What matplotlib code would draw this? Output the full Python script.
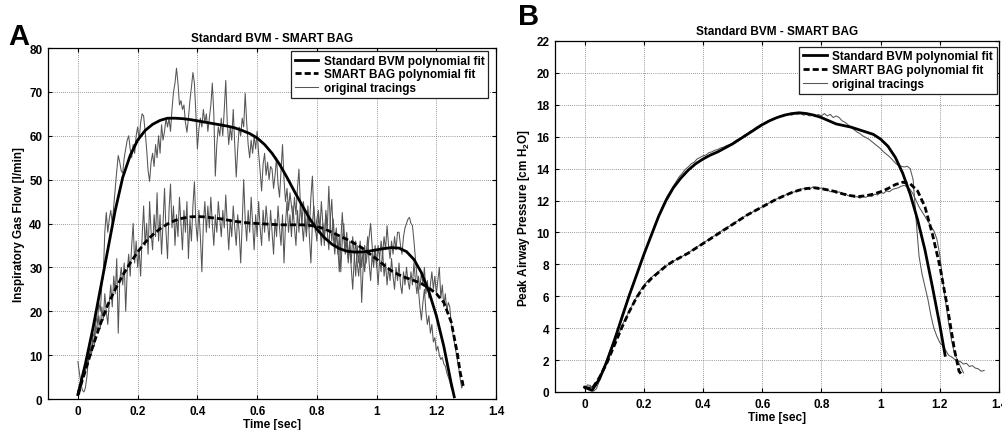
import numpy as np
import matplotlib
matplotlib.use('Agg')
import matplotlib.pyplot as plt

plt.rcParams['font.family'] = ['Liberation Sans', 'DejaVu Sans']
plt.rcParams['font.weight'] = 'bold'
plt.rcParams['mathtext.fontset'] = 'custom'
plt.rcParams['mathtext.rm'] = 'Liberation Sans:bold'
plt.rcParams['mathtext.default'] = 'rm'

# ---------------- Panel A: inspiratory gas flow [l/min] ----------------
fitA_bvm_t = [0, .025, .05, .075, .1, .125, .15, .175, .2, .225, .25, .275, .3, .325, .35, .375,
              .4, .425, .45, .475, .5, .525, .55, .575, .6, .625, .65, .675, .7, .725, .75, .775,
              .8, .825, .85, .875, .9, .925, .95, .975, 1.0, 1.025, 1.05, 1.075, 1.1, 1.125,
              1.15, 1.175, 1.2, 1.225, 1.25, 1.26]
fitA_bvm = [1, 8, 16, 25, 34, 43, 50.5, 55.5, 59, 61.2, 62.6, 63.5, 64, 64, 63.9, 63.7,
            63.4, 63.1, 62.8, 62.5, 62.2, 61.8, 61.2, 60.5, 59.5, 58, 56, 53.5, 50.5, 47.3, 44.2, 41.2,
            38.7, 36.8, 35.3, 34.3, 33.7, 33.5, 33.5, 33.7, 34, 34.3, 34.5, 34.4, 33.6, 31.8,
            28.8, 24.5, 19, 12, 3.5, 0.5]

fitA_smart_t = [0, .025, .05, .075, .1, .125, .15, .175, .2, .225, .25, .275, .3, .325, .35, .375,
                .4, .425, .45, .475, .5, .525, .55, .575, .6, .625, .65, .675, .7, .725, .75, .775,
                .8, .825, .85, .875, .9, .925, .95, .975, 1.0, 1.025, 1.05, 1.075, 1.1, 1.125,
                1.15, 1.175, 1.2, 1.225, 1.25, 1.27, 1.28, 1.29]
fitA_smart = [1, 6.5, 12, 17, 21.5, 25, 28.2, 31, 33.5, 35.7, 37.4, 38.8, 39.9, 40.7, 41.2, 41.5,
              41.6, 41.5, 41.3, 41.1, 40.8, 40.5, 40.3, 40.1, 40, 39.9, 39.8, 39.7, 39.7, 39.7, 39.7, 39.6,
              39.3, 38.8, 38, 37.2, 36.4, 35.5, 34.5, 33.2, 31.9, 30.5, 29.2, 28.3, 27.6, 27,
              26.3, 25.3, 24, 22, 17.5, 10.5, 6, 3]

# original tracings, sampled every 5 ms
dtA = 0.005
traceA_bvm = [
    8.5, 6, 3.5, 2, 1.6, 2.5, 5, 9, 12, 10,
    15, 14, 19, 17, 22, 20, 26, 28, 38, 42.5,
    38, 41, 43, 40, 44, 48, 52, 55.5, 54, 52,
    51.5, 55, 57, 59, 60, 57, 55, 58, 56, 60,
    62, 59, 63, 65, 64.5, 61, 57, 52, 49.6, 54,
    56, 53, 58, 55, 60, 56, 62.5, 59, 61, 64,
    62, 64, 61, 66, 70, 72, 75.4, 72, 67, 68,
    66, 67, 63, 60.8, 64, 68, 71, 74.4, 72, 65,
    57, 61.5, 64, 62, 66, 63, 65, 61, 64, 67,
    72, 65, 50.8, 58, 62, 60, 64, 60, 66, 72.6,
    63, 58, 62, 59, 66, 58, 50.6, 57, 62, 60,
    64, 62, 69.7, 63, 58, 55, 59, 56, 60, 57,
    61, 56, 52, 47.4, 53.5, 56, 51, 54, 50, 53,
    52.4, 48, 51, 55, 49, 46, 52, 58, 50, 45,
    48, 43, 47, 44, 41, 46, 42, 48, 52.4, 44,
    40, 45, 41, 37, 43, 39, 46, 50.8, 42, 38,
    41, 43, 39, 35, 40, 37, 42, 38, 34, 41,
    45.5, 37, 33, 38, 35, 29, 36, 42.5, 37, 33,
    36, 31, 35, 30, 25, 32, 36, 31, 28, 33,
    22, 30, 35, 31, 34, 37, 40, 35, 31, 34,
    30, 35, 32, 36, 33, 37, 34, 39.5, 35, 32,
    36, 33, 37, 34, 38, 38, 35, 33, 37, 39,
    40, 41, 41.4, 40, 39.5, 36, 32, 28, 25, 21,
    18, 22, 25, 20, 17, 19, 15, 17, 13, 14,
    11, 12, 10, 9, 9.5, 8, 7.5, 6, 5, 4,
    2.5, 1.8, 0.5]
traceA_smart = [
    2, 1, 2.5, 5, 7, 6, 9, 8, 12, 10,
    14, 12, 17, 15, 19, 16, 21, 18, 24, 20,
    17, 22, 26, 21, 28, 24, 32, 15, 27, 30,
    26, 31, 20, 29, 33, 28, 35, 40, 31, 36,
    30, 34, 28, 37, 44, 35, 40, 33, 45, 38,
    34, 42, 37, 47, 36, 42, 33, 40, 48, 38,
    32, 43, 49, 39, 44, 35, 42, 37, 46, 40,
    34, 43, 38, 45, 32, 41, 36, 44, 49.5, 40,
    36, 43, 37, 29, 40, 45, 38, 44, 39, 46,
    40, 35, 42, 38, 45, 41, 37, 43, 39, 46.5,
    40, 34, 41, 37, 44, 39, 35, 42, 38, 31,
    40, 50, 41, 36, 43, 38, 46, 40, 34, 42,
    37, 45, 39, 35, 43, 38, 44, 40, 36, 43,
    38, 33, 41, 37, 44, 39, 35, 42, 31, 40,
    45, 38, 42, 37, 44, 39, 35, 43, 38, 45,
    40, 36, 42, 38, 44, 37, 31, 40, 44, 39,
    36, 42, 38, 45, 40, 35, 43, 39, 48.5, 40,
    36, 41, 35, 39, 33, 37, 29, 36, 40, 34,
    38, 32, 36, 31, 37, 33, 28, 35, 31, 36,
    30, 34, 29, 33, 37, 31, 27, 33, 30, 35,
    31, 26, 32, 29, 34, 28, 31, 26, 30, 27,
    32, 28, 25, 30, 27, 31, 26, 24, 29, 26,
    30, 27, 25, 29, 26, 31, 27, 24, 28, 25,
    29, 26, 30, 24, 27, 23, 26, 29, 25, 28,
    24, 27, 30, 23, 26, 21, 24, 20, 22, 21,
    17, 15, 13, 11, 9, 7, 4.5, 2.5, 4]

# ---------------- Panel B: peak airway pressure [cm H2O] ----------------
fitB_bvm_t = [0, .025, .05, .075, .1, .125, .15, .175, .2, .225, .25, .275, .3, .325, .35, .375,
              .4, .425, .45, .475, .5, .525, .55, .575, .6, .625, .65, .675, .7, .725, .75, .775,
              .8, .825, .85, .875, .9, .925, .95, .975, 1.0, 1.025, 1.05, 1.075, 1.1, 1.125,
              1.15, 1.175, 1.2, 1.218]
fitB_bvm = [0.3, 0.1, 0.8, 1.9, 3.2, 4.6, 6.0, 7.3, 8.6, 9.8, 11.0, 12.0, 12.8, 13.4, 13.9, 14.3,
            14.6, 14.85, 15.05, 15.3, 15.55, 15.85, 16.15, 16.45, 16.75, 17.0, 17.2, 17.35, 17.45, 17.5, 17.45, 17.35,
            17.2, 17.0, 16.8, 16.7, 16.6, 16.45, 16.3, 16.15, 15.85, 15.4, 14.7, 13.7, 12.4, 10.8,
            8.9, 6.6, 4.2, 2.3]

fitB_smart_t = [0, .025, .05, .075, .1, .125, .15, .175, .2, .225, .25, .275, .3, .325, .35, .375,
                .4, .425, .45, .475, .5, .525, .55, .575, .6, .625, .65, .675, .7, .725, .75, .775,
                .8, .825, .85, .875, .9, .925, .95, .975, 1.0, 1.025, 1.05, 1.075, 1.1, 1.125,
                1.15, 1.175, 1.2, 1.225, 1.25, 1.265, 1.278]
fitB_smart = [0.3, 0.2, 0.9, 1.8, 2.9, 4.0, 5.0, 5.9, 6.6, 7.1, 7.5, 7.9, 8.2, 8.45, 8.7, 9.0,
              9.3, 9.6, 9.9, 10.2, 10.5, 10.8, 11.1, 11.35, 11.6, 11.85, 12.1, 12.3, 12.5, 12.65, 12.75, 12.8,
              12.75, 12.65, 12.55, 12.4, 12.3, 12.25, 12.3, 12.4, 12.55, 12.75, 13.0, 13.15, 13.05, 12.6,
              11.6, 9.9, 7.9, 5.4, 2.6, 1.3, 1.0]

# original tracings, sampled every 10 ms
dtB = 0.01
traceB_bvm = [
    0.2, 0.45, 0.4, 0.05, 0.2, 0.7, 1.2, 1.8, 2.3, 2.8,
    3.3, 3.8, 4.4, 5.0, 5.5, 6.1, 6.6, 7.1, 7.6, 8.1,
    8.6, 9.1, 9.6, 10.1, 10.6, 11.0, 11.5, 11.9, 12.3, 12.6,
    12.9, 13.2, 13.5, 13.7, 13.95, 14.1, 14.3, 14.4, 14.6, 14.7,
    14.8, 14.85, 15.0, 15.05, 15.15, 15.2, 15.3, 15.35, 15.45, 15.5,
    15.6, 15.75, 15.85, 15.95, 16.1, 16.2, 16.35, 16.45, 16.6, 16.7,
    16.8, 16.85, 17.0, 17.05, 17.15, 17.2, 17.3, 17.25, 17.35, 17.4,
    17.35, 17.45, 17.4, 17.45, 17.35, 17.4, 17.3, 17.35, 17.25, 17.4,
    17.3, 17.45, 17.3, 17.4, 17.2, 17.3, 17.2, 17.0, 16.9, 16.75,
    16.6, 16.45, 16.3, 16.2, 16.05, 15.95, 15.85, 15.7, 15.55, 15.4,
    15.25, 15.05, 14.9, 14.75, 14.55, 14.35, 14.2, 14.15, 14.1, 14.15,
    14.0, 13.3, 10.8, 8.5, 7.4, 6.6, 5.8, 4.8, 4.0, 3.5,
    3.1, 2.9, 2.6, 2.3, 2.2, 2.05, 1.95, 1.9, 1.75, 1.8,
    1.6, 1.65, 1.5, 1.45, 1.3, 1.35]
traceB_smart = [
    0.3, 0.2, 0.35, 0.2, 0.6, 0.9, 1.3, 1.7, 2.2, 2.6,
    3.0, 3.4, 3.85, 4.3, 4.65, 5.05, 5.4, 5.75, 6.1, 6.4,
    6.65, 6.9, 7.1, 7.25, 7.4, 7.55, 7.7, 7.8, 7.95, 8.05,
    8.2, 8.3, 8.4, 8.5, 8.6, 8.7, 8.85, 8.95, 9.1, 9.2,
    9.3, 9.45, 9.55, 9.7, 9.8, 9.95, 10.05, 10.2, 10.3, 10.4,
    10.5, 10.65, 10.75, 10.85, 11.0, 11.1, 11.2, 11.3, 11.45, 11.5,
    11.6, 11.75, 11.8, 11.95, 12.05, 12.1, 12.2, 12.3, 12.35, 12.45,
    12.5, 12.55, 12.6, 12.7, 12.75, 12.8, 12.7, 12.85, 12.75, 12.7,
    12.8, 12.65, 12.7, 12.55, 12.6, 12.45, 12.55, 12.4, 12.45, 12.3,
    12.35, 12.2, 12.25, 12.15, 12.25, 12.2, 12.3, 12.25, 12.4, 12.35,
    12.5, 12.45, 12.6, 12.55, 12.7, 12.75, 12.8, 12.9, 12.95, 12.85,
    12.7, 12.4, 12.0, 11.6, 11.3, 11.0, 10.7, 10.4, 10.1, 9.6,
    8.6, 7.0, 5.6, 4.3, 3.2, 2.4, 2.0, 1.6, 1.2]

title = 'Standard BVM - SMART BAG'
legend_labels = ['Standard BVM polynomial fit', 'SMART BAG polynomial fit', 'original tracings']
x_ticks = [0, 0.2, 0.4, 0.6, 0.8, 1.0, 1.2, 1.4]
x_ticklabels = ['0', '0.2', '0.4', '0.6', '0.8', '1', '1.2', '1.4']


def sample_times(values, dt):
    return np.arange(len(values)) * dt


def draw_panel(ax, fits, traces, ylim, yticks, ylabel, legend_anchor):
    for t, y in traces:
        tr, = ax.plot(t, y, color='#555555', linewidth=0.75, zorder=2)
    (t1, y1), (t2, y2) = fits
    l1, = ax.plot(t1, y1, color='black', linewidth=2.0, zorder=3)
    l2, = ax.plot(t2, y2, color='black', linewidth=2.0, linestyle=(0, (2.2, 1.1)), zorder=3)
    ax.set_xlim(-0.1, 1.4)
    ax.set_ylim(*ylim)
    ax.set_xticks(x_ticks)
    ax.set_xticklabels(x_ticklabels)
    ax.set_yticks(yticks)
    ax.tick_params(direction='in', top=True, right=True, length=3, width=0.8,
                   labelsize=8.5, pad=4)
    ax.grid(True, linestyle=(0, (1, 1.5)), color='#777777', linewidth=0.6)
    for s in ax.spines.values():
        s.set_linewidth(0.9)
    ax.set_title(title, fontsize=8.5, fontweight='bold', pad=5)
    ax.set_xlabel('Time [sec]', fontsize=8.5, fontweight='bold', labelpad=1)
    ax.set_ylabel(ylabel, fontsize=8.5, fontweight='bold', labelpad=3)
    leg = ax.legend([l1, l2, tr], legend_labels, loc='upper right', bbox_to_anchor=legend_anchor,
                    borderaxespad=0, fancybox=False, framealpha=1, edgecolor='#222222',
                    fontsize=8.5, handlelength=2.0, handletextpad=0.5, labelspacing=0.15,
                    borderpad=0.3)
    leg.get_frame().set_linewidth(0.9)


fig = plt.figure(figsize=(10.03, 4.31), dpi=100)
axA = fig.add_axes([0.0479, 0.0719, 0.4467, 0.8144])
axB = fig.add_axes([0.5533, 0.0882, 0.4427, 0.8144])

draw_panel(axA,
           [(fitA_bvm_t, fitA_bvm), (fitA_smart_t, fitA_smart)],
           [(sample_times(traceA_bvm, dtA), traceA_bvm),
            (sample_times(traceA_smart, dtA), traceA_smart)],
           (0, 80), range(0, 81, 10), 'Inspiratory Gas Flow [l/min]', (0.983, 0.991))

draw_panel(axB,
           [(fitB_bvm_t, fitB_bvm), (fitB_smart_t, fitB_smart)],
           [(sample_times(traceB_bvm, dtB), traceB_bvm),
            (sample_times(traceB_smart, dtB), traceB_smart)],
           (0, 22), range(0, 23, 2), 'Peak Airway Pressure [cm H$_2$O]', (0.995, 0.983))

fig.text(0.008, 0.895, 'A', fontsize=21, fontweight='bold')
fig.text(0.516, 0.942, 'B', fontsize=21, fontweight='bold')

fig.savefig('out.png', dpi=100)
